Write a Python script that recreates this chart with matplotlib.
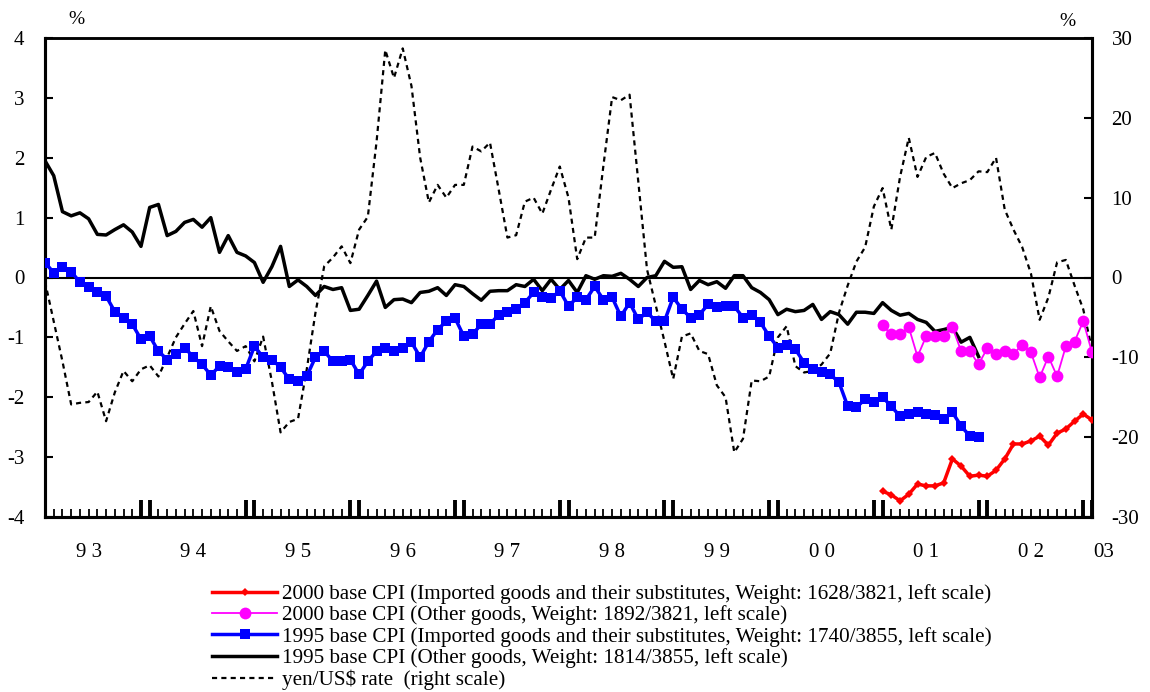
import matplotlib
matplotlib.use("Agg")
import matplotlib.pyplot as plt
from matplotlib.lines import Line2D

plt.rcParams['font.family'] = ['Liberation Serif', 'DejaVu Serif']
plt.rcParams['axes.unicode_minus'] = False

# ---------------- data (monthly, index 0 = Jan 1993 ... 120 = Jan 2003) ----------------
year_labels = ["9 3", "9 4", "9 5", "9 6", "9 7", "9 8", "9 9", "0 0", "0 1", "0 2"]
last_label = "03"

cpi95_other = [1.95, 1.70, 1.10, 1.03, 1.08, 0.98, 0.72, 0.71, 0.80, 0.88, 0.76, 0.52,
               1.17, 1.22, 0.70, 0.77, 0.92, 0.97, 0.84, 1.00, 0.42, 0.70, 0.42, 0.36,
               0.25, -0.08, 0.18, 0.52, -0.15, -0.04, -0.15, -0.30, -0.15, -0.20, -0.17, -0.55,
               -0.53, -0.30, -0.06, -0.50, -0.37, -0.36, -0.42, -0.25, -0.23, -0.17, -0.30, -0.12,
               -0.15, -0.27, -0.38, -0.23, -0.22, -0.22, -0.12, -0.15, -0.03, -0.22, -0.03, -0.20,
               -0.05, -0.25, 0.03, -0.03, 0.03, 0.02, 0.07, -0.03, -0.15, 0.00, 0.03, 0.27,
               0.17, 0.18, -0.20, -0.05, -0.12, -0.07, -0.18, 0.03, 0.03, -0.17, -0.25, -0.37,
               -0.62, -0.53, -0.57, -0.55, -0.45, -0.70, -0.57, -0.62, -0.78, -0.58, -0.58, -0.60,
               -0.42, -0.55, -0.63, -0.60, -0.70, -0.75, -0.90, -0.87, -0.83, -1.08, -1.00, -1.32]

cpi95_import = [0.25, 0.08, 0.17, 0.10, -0.08, -0.16, -0.24, -0.31, -0.57, -0.67, -0.78, -1.03,
                -0.98, -1.23, -1.37, -1.28, -1.17, -1.33, -1.45, -1.63, -1.48, -1.50, -1.58, -1.53,
                -1.15, -1.33, -1.37, -1.50, -1.70, -1.73, -1.65, -1.33, -1.23, -1.40, -1.40, -1.37,
                -1.62, -1.40, -1.23, -1.17, -1.23, -1.17, -1.08, -1.33, -1.07, -0.87, -0.73, -0.68,
                -0.98, -0.95, -0.78, -0.78, -0.62, -0.57, -0.52, -0.42, -0.25, -0.33, -0.35, -0.22,
                -0.48, -0.33, -0.37, -0.15, -0.37, -0.33, -0.65, -0.42, -0.70, -0.58, -0.73, -0.73,
                -0.33, -0.53, -0.67, -0.62, -0.45, -0.50, -0.48, -0.48, -0.67, -0.62, -0.75, -0.98,
                -1.17, -1.12, -1.20, -1.42, -1.53, -1.58, -1.62, -1.75, -2.15, -2.17, -2.03, -2.08,
                -2.00, -2.15, -2.32, -2.28, -2.25, -2.28, -2.30, -2.37, -2.25, -2.48, -2.65, -2.67]

cpi00_start = 96
cpi00_import = [-3.57, -3.63, -3.73, -3.62, -3.45, -3.48, -3.48, -3.43, -3.03, -3.15, -3.32, -3.30,
                -3.32, -3.22, -3.03, -2.78, -2.78, -2.73, -2.65, -2.80, -2.60, -2.53, -2.40, -2.28,
                -2.38]
cpi00_other = [-0.80, -0.95, -0.95, -0.83, -1.32, -0.98, -0.98, -0.98, -0.83, -1.23, -1.23, -1.45,
               -1.18, -1.28, -1.23, -1.28, -1.12, -1.25, -1.67, -1.32, -1.65, -1.15, -1.07, -0.73,
               -1.25]

yen_usd = [-0.5, -5.5, -10.5, -15.9, -15.7, -15.6, -14.3, -18.0, -14.4, -11.7, -13.0, -11.5,
           -11.0, -12.4, -10.0, -7.5, -5.8, -4.2, -8.6, -3.6, -6.7, -8.0, -9.2, -8.6,
           -10.5, -7.4, -13.0, -19.4, -18.1, -17.7, -11.5, -4.4, 1.4, 2.5, 3.9, 1.8,
           6.0, 7.6, 17.0, 28.5, 25.0, 28.7, 24.0, 15.0, 9.4, 11.6, 10.0, 11.6,
           11.6, 16.4, 15.8, 16.9, 11.0, 5.0, 5.3, 9.5, 10.0, 8.0, 11.0, 13.9,
           10.0, 2.3, 5.0, 5.0, 14.0, 22.6, 22.2, 22.9, 12.0, 1.0, -3.5, -8.0,
           -12.7, -7.4, -7.0, -9.2, -9.6, -13.5, -15.0, -21.9, -20.2, -12.9, -13.0, -12.4,
           -7.5, -6.1, -11.1, -11.9, -11.7, -10.9, -9.5, -4.4, -1.0, 2.0, 3.8, 8.9,
           11.2, 6.0, 12.6, 17.5, 12.6, 15.1, 15.6, 13.0, 11.2, 11.8, 12.2, 13.3,
           13.2, 15.0, 8.5, 6.0, 3.8, 0.5, -5.3, -2.5, 1.9, 2.2, -1.0, -4.0,
           -9.0]

legend_labels = [
    "2000 base CPI (Imported goods and their substitutes, Weight: 1628/3821, left scale)",
    "2000 base CPI (Other goods, Weight: 1892/3821, left scale)",
    "1995 base CPI (Imported goods and their substitutes, Weight: 1740/3855, left scale)",
    "1995 base CPI (Other goods, Weight: 1814/3855, left scale)",
    "yen/US$ rate  (right scale)",
]

# ---------------- figure ----------------
fig = plt.figure(figsize=(11.5, 6.92), dpi=100)
ax = fig.add_axes([45 / 1150, 1 - 517 / 692, (1092 - 45) / 1150, (517 - 38) / 692])
ax2 = ax.twinx()

n = len(yen_usd)
x_all = list(range(n))
x95 = list(range(len(cpi95_other)))
x00 = list(range(cpi00_start, cpi00_start + len(cpi00_import)))

dash = (0, (2.3, 1.9))
ax2.plot(x_all, yen_usd, color='black', lw=1.6, linestyle=dash)
ax2.set_ylim(-30, 30)
ax2.set_yticks([-30, -20, -10, 0, 10, 20, 30])

ax.set_zorder(ax2.get_zorder() + 1)
ax.patch.set_visible(False)

ax.axhline(0, color='black', lw=1.5, zorder=1)
ax.plot(x95, cpi95_other, color='black', lw=2.5, zorder=3)
ax.plot(x95, cpi95_import, color='#0000ff', lw=2.5, marker='s', markersize=7,
        markeredgewidth=0, zorder=4)
ax.plot(x00, cpi00_import, color='#ff0000', lw=2.5, marker='D', markersize=3.8,
        markeredgewidth=0, zorder=5)
ax.plot(x00, cpi00_other, color='#ff00ff', lw=1.3, marker='o', markersize=8.5,
        markeredgewidth=0, zorder=5)

ax.set_xlim(0, n - 1)
ax.set_ylim(-4, 4)
ax.set_yticks(range(-4, 5))

# x ticks: monthly minor, double heavy ticks at year change
ax.set_xticks(x_all, minor=True)
major = []
for k in range(11, n, 12):
    major += [k, k + 1]
major = [m for m in major if m < n]
ax.set_xticks(major)
ax.set_xticklabels([])
ax.tick_params(axis='x', which='minor', direction='in', length=6, width=1.3, color='black')
ax.tick_params(axis='x', which='major', direction='in', length=12, width=2.8, color='black')
ax.tick_params(axis='y', direction='in', length=6, width=1.5, labelsize=15, pad=15)
ax2.tick_params(axis='y', direction='in', length=6, width=1.5, labelsize=15, pad=14)
ax2.tick_params(axis='x', which='both', bottom=False, top=False)

for sp in ['left', 'bottom', 'right']:
    ax.spines[sp].set_linewidth(2.2)
    ax2.spines[sp].set_linewidth(2.2)
ax.spines['top'].set_linewidth(1.8)
ax2.spines['top'].set_linewidth(1.8)

for i, lab in enumerate(year_labels):
    ax.text(5 + 12 * i, -4.6, lab, ha='center', va='center', fontsize=15)
ax.text(121.3, -4.6, last_label, ha='center', va='center', fontsize=15, clip_on=False)

fig.text(76 / 1150, 1 - 19 / 692, "%", ha='center', va='center', fontsize=14)
fig.text(1067 / 1150, 1 - 21 / 692, "%", ha='center', va='center', fontsize=14)

handles = [
    Line2D([], [], color='#ff0000', lw=2.5, marker='D', markersize=3.8, markeredgewidth=0),
    Line2D([], [], color='#ff00ff', lw=1.3, marker='o', markersize=8.5, markeredgewidth=0),
    Line2D([], [], color='#0000ff', lw=2.5, marker='s', markersize=7, markeredgewidth=0),
    Line2D([], [], color='black', lw=2.5),
    Line2D([], [], color='black', lw=1.6, linestyle=dash),
]
fig.legend(handles, legend_labels, loc='upper left', bbox_to_anchor=(212 / 1150, 1 - 584 / 692),
           frameon=False, fontsize=15.2, handlelength=3.1, handletextpad=0.2,
           labelspacing=0.07, borderpad=0, borderaxespad=0, markerscale=1.0)

fig.savefig("out.png", dpi=100)
